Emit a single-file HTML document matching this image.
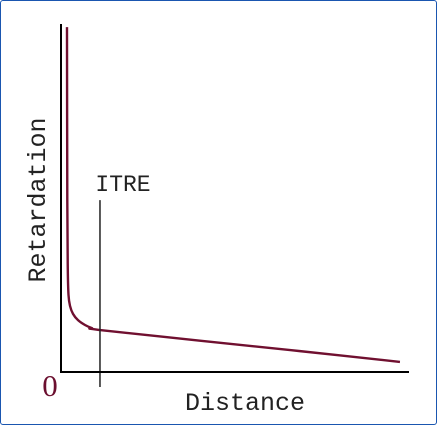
<!DOCTYPE html>
<html><head><meta charset="utf-8"><style>
html,body{margin:0;padding:0;background:#fff;}
#frame{position:absolute;left:0;top:0;width:435px;height:423px;border:1px solid #1a56b0;border-radius:3px;}
svg{position:absolute;left:0;top:0;}
.lab{font-family:"Liberation Mono",monospace;fill:#222;}
</style></head><body>
<div id="frame"></div>
<svg id="chart" width="437" height="425">
  <g id="marks"></g>
  <line x1="61" y1="24" x2="61" y2="373" stroke="#000" stroke-width="2"/>
  <line x1="60" y1="372" x2="409" y2="372" stroke="#000" stroke-width="2"/>
  <text x="50" y="396" style="font-family:'Liberation Serif',serif;font-size:31px;fill:#6b0f2f" text-anchor="middle">0</text>
  <text class="lab" x="245" y="410" style="font-size:25px" text-anchor="middle">Distance</text>
  <text class="lab" transform="translate(45,200) rotate(-90)" style="font-size:25px" text-anchor="middle">Retardation</text>
  <text class="lab" x="123" y="191" style="font-size:23px" text-anchor="middle">ITRE</text>
</svg>
<script>
const distance = [1.72, 1.81, 1.95, 2.16, 2.59, 3.45, 4.89, 6.9, 8.9, 10.9, 39.9, 68.7, 97.4];
const retardation = [99.1, 49.4, 29.6, 22.1, 19.0, 16.7, 14.9, 13.5, 12.6, 12.1, 9.0, 6.0, 2.9];
const itreDistance = [11.2];
const itreRange = [-4.3, 49.4];
const xs = v => 61 + v * 3.48;
const ys = v => 372 - v * 3.48;
const g = document.getElementById('marks');
const NS = 'http://www.w3.org/2000/svg';
const pts = distance.map((d, i) => [xs(d), ys(retardation[i])]);
let d = 'M' + pts[0][0] + ',' + pts[0][1];
for (let i = 0; i < pts.length - 1; i++) {
  const p0 = pts[Math.max(0, i - 1)], p1 = pts[i], p2 = pts[i + 1], p3 = pts[Math.min(pts.length - 1, i + 2)];
  const c1 = [p1[0] + (p2[0] - p0[0]) / 6, p1[1] + (p2[1] - p0[1]) / 6];
  const c2 = [p2[0] - (p3[0] - p1[0]) / 6, p2[1] - (p3[1] - p1[1]) / 6];
  d += ' C' + c1 + ' ' + c2 + ' ' + p2;
}
const path = document.createElementNS(NS, 'path');
path.setAttribute('d', d);
path.setAttribute('fill', 'none');
path.setAttribute('stroke', '#701030');
path.setAttribute('stroke-width', '2.4');
path.setAttribute('stroke-linejoin', 'round');


g.appendChild(path);
const ln = document.createElementNS(NS, 'line');
ln.setAttribute('x1', xs(itreDistance[0]));
ln.setAttribute('x2', xs(itreDistance[0]));
ln.setAttribute('y1', ys(itreRange[1]));
ln.setAttribute('y2', ys(itreRange[0]));
ln.setAttribute('stroke', '#222');
ln.setAttribute('stroke-width', '1.5');


g.appendChild(ln);
</script>
</body></html>
